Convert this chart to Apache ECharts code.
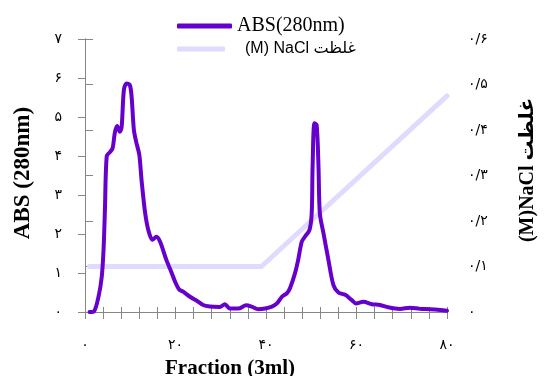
<!DOCTYPE html>
<html>
<head>
<meta charset="utf-8">
<script src="https://cdn.jsdelivr.net/npm/echarts@6/dist/echarts.min.js"></script>
<style>html,body{margin:0;padding:0;background:#fff;}#c{width:546px;height:376px;}</style>
</head>
<body>
<div id="c"></div>
<script>
// ---- data ----
const fractions = [1, 2, 3, 3.7, 4.1, 4.4, 4.8, 5.5, 6.1, 6.6, 7.1, 7.7, 8.1, 8.6, 9.2, 9.9, 10.3, 10.8, 11.3, 12.0,
  12.5, 13.3, 14.0, 14.9, 15.8, 16.6, 18.0, 19.2, 19.9, 20.8, 21.7, 23.2, 24.7, 26.1, 27.6, 29.8, 30.9, 32.0, 33.9, 35.6,
  36.8, 38.3, 39.8, 41.3, 42.4, 43.5, 44.6, 45.3, 46.4, 47.1, 47.9, 48.6, 49.6, 50.1, 50.3, 50.7, 51.2, 51.6, 51.9, 52.7,
  53.8, 54.9, 56.0, 57.5, 58.9, 59.9, 61.5, 63.4, 65.2, 67.0, 69.6, 71.8, 74.0, 76.2, 78.5, 80];
const absValues = [0, 0.02, 0.4, 0.9, 1.6, 2.6, 4.0, 4.1, 4.2, 4.6, 4.77, 4.62, 4.75, 5.7, 5.86, 5.82, 5.52, 4.67, 4.37, 4.03,
  3.38, 2.53, 2.1, 1.85, 1.93, 1.8, 1.33, 0.99, 0.78, 0.58, 0.52, 0.39, 0.29, 0.18, 0.14, 0.13, 0.2, 0.09, 0.09, 0.17,
  0.14, 0.07, 0.09, 0.14, 0.22, 0.39, 0.48, 0.61, 0.99, 1.33, 1.8, 1.93, 2.1, 2.53, 3.73, 4.84, 4.79, 3.73, 2.53, 2.02,
  1.33, 0.69, 0.5, 0.44, 0.31, 0.22, 0.26, 0.2, 0.18, 0.12, 0.08, 0.11, 0.08, 0.07, 0.05, 0.03];
const naclFractions = [1, 39, 80];
const naclValues = [0.1, 0.1, 0.475];
const xLabelValues = [0, 20, 40, 60, 80];
const absName = 'ABS(280nm)';
const naclName = '(M) NaCl غلظت';
const xTitle = 'Fraction (3ml)';
const yTitle = 'ABS (280nm)';
const y2Title = '(M)NaCl غلظت';

// ---- helpers ----
const faDigits = '۰۱۲۳۴۵۶۷۸۹';
function toFa(s) { return String(s).replace(/\d/g, d => faDigits[+d]); }
const absData = fractions.map((f, i) => [f, absValues[i]]);
const naclData = naclFractions.map((f, i) => [f, naclValues[i]]);

const axisColor = '#878787';
const chart = echarts.init(document.getElementById('c'), null, { renderer: 'canvas' });
chart.setOption({
  animation: false,
  grid: { left: 85, right: 99, top: 39, bottom: 64 },
  legend: [
    { data: [absName], left: 177, top: 16, padding: 0, itemWidth: 55, itemHeight: 5, icon: 'roundRect',
      selectedMode: false, itemGap: 0,
      textStyle: { fontFamily: '"Liberation Serif", serif', fontSize: 20, color: '#000' } },
    { data: [naclName], left: 177, top: 41, padding: 0, itemWidth: 48, itemHeight: 5, icon: 'roundRect',
      selectedMode: false,
      textStyle: { fontFamily: '"Liberation Sans", "DejaVu Sans", sans-serif', fontSize: 16, color: '#000', padding: [12, 0, 0, 15] } }
  ],
  xAxis: [
    { type: 'value', min: 0, max: 80, interval: 4, position: 'bottom',
      axisLine: { lineStyle: { color: axisColor, width: 1 } },
      axisTick: { show: true, length: 7, lineStyle: { color: axisColor } },
      splitLine: { show: false },
      axisLabel: { margin: 26, fontSize: 14, color: '#000', fontFamily: '"DejaVu Sans", sans-serif',
        formatter: v => xLabelValues.indexOf(v) >= 0 ? toFa(v) : '' } },
    { type: 'value', min: 0, max: 80, interval: 4, position: 'bottom',
      axisLine: { show: false },
      axisTick: { show: true, inside: true, length: 5, lineStyle: { color: axisColor } },
      splitLine: { show: false }, axisLabel: { show: false } }
  ],
  yAxis: [
    { type: 'value', min: 0, max: 7, interval: 1, position: 'left',
      axisLine: { show: true, lineStyle: { color: axisColor } },
      axisTick: { show: true, length: 7, lineStyle: { color: axisColor } },
      splitLine: { show: false },
      axisLabel: { margin: 23, fontSize: 14, color: '#000', fontFamily: '"DejaVu Sans", sans-serif',
        formatter: v => toFa(v) } },
    { type: 'value', min: 0, max: 0.6, interval: 0.1, position: 'right',
      axisLine: { show: true, lineStyle: { color: axisColor } },
      axisTick: { show: true, length: 8, lineStyle: { color: axisColor } },
      splitLine: { show: false },
      axisLabel: { margin: 21, fontSize: 14, color: '#000', fontFamily: '"DejaVu Sans", sans-serif',
        formatter: v => { const n = Math.round(v * 10); return n === 0 ? '۰' : '۰/' + toFa(n); } } }
  ],
  series: [
    { name: naclName, type: 'line', xAxisIndex: 0, yAxisIndex: 1, data: naclData, showSymbol: false, symbol: 'none',
      lineStyle: { color: '#E1DAFF', width: 5, cap: 'round', join: 'round' }, itemStyle: { color: '#E1DAFF' }, z: 2 },
    { name: absName, type: 'line', xAxisIndex: 0, yAxisIndex: 0, data: absData, showSymbol: false, symbol: 'none',
      smooth: 0.3, lineStyle: { color: '#6600CC', width: 4, cap: 'round', join: 'round' }, itemStyle: { color: '#6600CC' }, z: 3 }
  ],
  graphic: [
    { type: 'text', x: 23, y: 173, rotation: Math.PI / 2,
      style: { text: yTitle, fontFamily: '"Liberation Serif", serif', fontWeight: 'bold', fontSize: 23, fill: '#000', align: 'center', verticalAlign: 'middle' } },
    { type: 'text', x: 230, y: 369,
      style: { text: xTitle, fontFamily: '"Liberation Serif", serif', fontWeight: 'bold', fontSize: 21, fill: '#000', align: 'center', verticalAlign: 'middle' } },
    { type: 'text', x: 528, y: 170, rotation: Math.PI / 2,
      style: { text: y2Title, fontFamily: '"Liberation Serif", "DejaVu Sans", serif', fontWeight: 'bold', fontSize: 20, fill: '#000', align: 'center', verticalAlign: 'middle' } }
  ]
});
</script>
</body>
</html>
